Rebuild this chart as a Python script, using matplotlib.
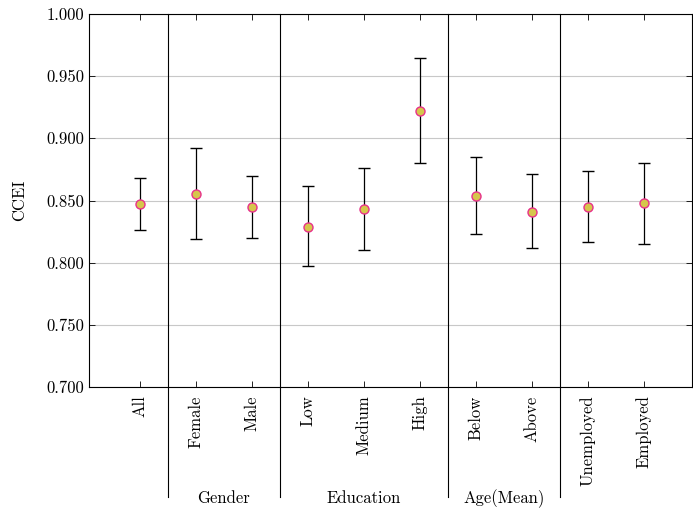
import numpy as np
import matplotlib
matplotlib.use("Agg")
import matplotlib.pyplot as plt
from matplotlib.transforms import blended_transform_factory

plt.rcParams['font.family'] = 'serif'
plt.rcParams['font.serif'] = ['cmr10', 'DejaVu Serif']
plt.rcParams['axes.formatter.use_mathtext'] = True
plt.rcParams['font.size'] = 12

labels = ['All', 'Female', 'Male', 'Low', 'Medium', 'High',
          'Below', 'Above', 'Unemployed', 'Employed']
ccei = [0.847, 0.855, 0.845, 0.829, 0.843, 0.922, 0.854, 0.841, 0.845, 0.848]
ci_low = [0.826, 0.819, 0.820, 0.797, 0.810, 0.880, 0.823, 0.812, 0.817, 0.815]
ci_high = [0.868, 0.892, 0.870, 0.862, 0.876, 0.965, 0.885, 0.871, 0.874, 0.880]

# group separators (between categories) and group names
sep_pos = [0.5, 2.5, 5.5, 7.5]
group_names = ['Gender', 'Education', 'Age(Mean)']
group_centers = [1.5, 4.0, 6.5]

x = np.arange(len(labels))
ccei = np.array(ccei)
yerr = [ccei - np.array(ci_low), np.array(ci_high) - ccei]

fig = plt.figure(figsize=(6.93, 5.08), dpi=100)
ax = fig.add_axes([89/693, 121/508, 603/693, 373/508])

ax.grid(axis='y', color='#c8c8c8', linewidth=0.8)
ax.set_axisbelow(True)

ax.errorbar(x, ccei, yerr=yerr, fmt='o', color='black', ecolor='black',
            elinewidth=0.9, capsize=4, capthick=0.9,
            markersize=6.5, markerfacecolor='#d6c64c', markeredgecolor='#e8318a',
            markeredgewidth=1.0, zorder=3)

ax.set_xlim(-0.91, 9.86)
ax.set_ylim(0.7, 1.0)
ax.set_yticks(np.arange(0.7, 1.0001, 0.05))
ax.set_yticklabels([f'{v:.3f}' for v in np.arange(0.7, 1.0001, 0.05)])
ax.set_xticks(x)
ax.set_xticklabels(labels, rotation=90)
ax.tick_params(direction='in', top=True, right=True, length=4, width=0.6)
ax.tick_params(axis='x', pad=6)
ax.set_ylabel('CCEI', labelpad=14)

for s in ax.spines.values():
    s.set_linewidth(0.8)

trans = blended_transform_factory(ax.transData, ax.transAxes)
for p in sep_pos:
    ax.plot([p, p], [1, -0.295], color='black', linewidth=0.8,
            transform=trans, clip_on=False, zorder=4)
for name, c in zip(group_names, group_centers):
    ax.text(c, -0.299, name, transform=trans, ha='center', va='center')

fig.savefig('out.png', dpi=100)
